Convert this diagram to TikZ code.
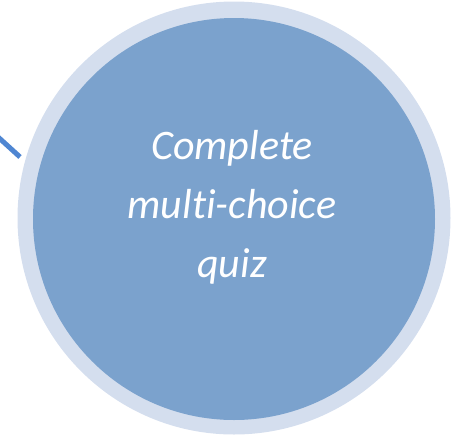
\documentclass[tikz,border=0pt]{standalone}
\usepackage{fontspec}
\setmainfont{Carlito}[Ligatures=NoCommon]
\definecolor{ringc}{HTML}{D4DEEE}
\definecolor{fillc}{HTML}{7BA2CD}
\definecolor{linec}{HTML}{4F86D2}
\begin{document}
\begin{tikzpicture}[x=1pt,y=-1pt]
\useasboundingbox (0,0) rectangle (455,437);
\tikzset{ringstyle/.style={circle, fill=ringc, minimum size=433pt, inner sep=0pt},
  corestyle/.style={circle, fill=fillc, minimum size=402pt, inner sep=0pt},
  labelstyle/.style={text=white, font=\fontsize{42}{59}\selectfont\itshape, align=center}}
\coordinate (lstart) at (-2,137);
\coordinate (lend) at (20,157);
\draw[linec, line width=5pt] (lstart) -- (lend);
\node[ringstyle] (ring) at (234,218) {};
\node[corestyle] (core) at (234,219) {};
\node[labelstyle] (lab) at (232,207) {Complete\\multi-choice\\quiz};
\end{tikzpicture}
\end{document}
